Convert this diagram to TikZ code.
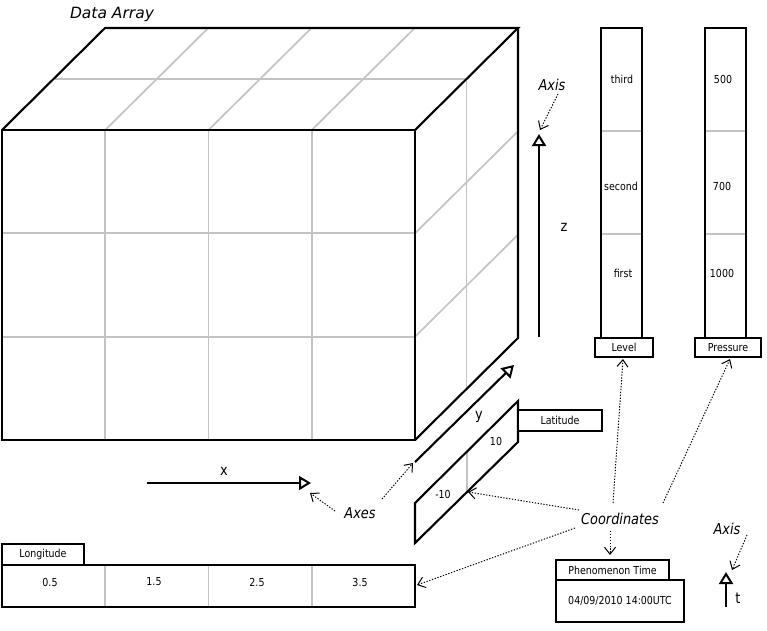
\documentclass[tikz,border=0pt]{standalone}
\usepackage{fontspec}
\setmainfont{DejaVu Sans}[FakeStretch=0.86]
\newfontfamily\widefont{DejaVu Sans}
\usetikzlibrary{arrows.meta}
\definecolor{gridgray}{RGB}{195,195,195}
\tikzset{
  blk/.style={line width=2.1pt, line join=miter},
  gry/.style={line width=1.7pt, draw=gridgray},
  box/.style={draw, line width=2.1pt, inner sep=0pt, fill=white},
  small/.style={font=\fontsize{11}{12}\selectfont, inner sep=0pt},
  ital/.style={font=\fontsize{15}{17}\itshape, inner sep=0pt},
  axl/.style={font=\fontsize{15}{17}\selectfont, inner sep=0pt},
  axarrow/.style={line width=2.1pt, -{Triangle[open, length=12pt, width=14pt, line width=2pt]}},
  dotarrow/.style={line width=1pt, dash pattern=on 1.3pt off 1.6pt, -{Straight Barb[length=7pt, width=11pt, line width=1pt]}}
}
\begin{document}
\begin{tikzpicture}[x=1pt,y=-1pt]
\useasboundingbox (0,0) rectangle (767,630);
% ---------- cube ----------
\foreach \xx in {105.25,208.5,311.75} \draw[gry] (\xx,130) -- (\xx,440);
\foreach \yy in {233.3,336.7} \draw[gry] (2,\yy) -- (415,\yy);
\foreach \xx in {105.25,208.5,311.75} \draw[gry] (\xx,130) -- (\xx+103,28);
\draw[gry] (53.5,79) -- (466.5,79);
\draw[gry] (466.5,79) -- (466.5,389);
\foreach \yy in {233.3,336.7} \draw[gry] (415,\yy) -- (518,\yy-102);
\draw[blk] (2,130) rectangle (415,440);
\draw[blk] (2,130) -- (105,28) -- (518,28) -- (415,130);
\draw[blk] (518,28) -- (518,338) -- (415,440);
\node[font=\widefont\fontsize{15.5}{18}\itshape, inner sep=0pt] (dataarray) at (112,14) {Data Array};
% ---------- z axis ----------
\coordinate (zstart) at (539,337);
\coordinate (ztip) at (539,134);
\draw[axarrow] (zstart) -- (ztip);
\node[axl] (zlab) at (564,227) {z};
\node[ital] (axis1) at (552,85) {Axis};
\coordinate (axis1s) at (558,94);
\coordinate (axis1e) at (540,130);
\draw[dotarrow] (axis1s) -- (axis1e);
% ---------- Level column ----------
\node[box, minimum width=41pt, minimum height=310pt] (levelcol) at (621.5,183) {};
\draw[gry] (602,131) -- (641,131);
\draw[gry] (602,234) -- (641,234);
\node[small] (third) at (622,79) {third};
\node[small] (second) at (621,186) {second};
\node[small] (first) at (623,273) {first};
\node[box, small, minimum width=58pt, minimum height=19pt] (levelbox) at (624,347.5) {Level};
% ---------- Pressure column ----------
\node[box, minimum width=41pt, minimum height=310pt] (prescol) at (725.5,183) {};
\draw[gry] (706,131) -- (745,131);
\draw[gry] (706,234) -- (745,234);
\node[small] (p500) at (723,79) {500};
\node[small] (p700) at (722,186) {700};
\node[small] (p1000) at (722,273) {1000};
\node[box, small, minimum width=66pt, minimum height=19pt] (presbox) at (728,347.5) {Pressure};
% ---------- y axis and latitude ----------
\coordinate (ystart) at (415,462);
\coordinate (ytip) at (514,365);
\draw[axarrow] (ystart) -- (ytip);
\node[axl] (ylab) at (479,417) {y};
\draw[gry] (467,452) -- (467,492);
\draw[blk] (415,503) -- (518,401) -- (518,442) -- (415,543) -- cycle;
\node[small] (lat10) at (496,441) {10};
\node[small] (latm10) at (443,494) {-10};
\node[box, small, minimum width=84pt, minimum height=21pt] (latbox) at (560,420.5) {Latitude};
% ---------- x axis ----------
\coordinate (xstart) at (147,483);
\coordinate (xtip) at (311,483);
\draw[axarrow] (xstart) -- (xtip);
\node[axl] (xlab) at (224,471) {x};
\node[ital] (axes) at (360,513) {Axes};
\coordinate (axesA) at (335,511);
\coordinate (axesB) at (382,499);
\coordinate (xnear) at (310,493);
\coordinate (ynear) at (413,463);
\draw[dotarrow] (axesA) -- (xnear);
\draw[dotarrow] (axesB) -- (ynear);
% ---------- Longitude ----------
\node[box, small, minimum width=82pt, minimum height=21pt] (lonbox) at (43,554.5) {Longitude};
\node[box, minimum width=413pt, minimum height=42pt] (lonbar) at (208.5,586) {};
\foreach \xx in {105.25,208.5,311.75} \draw[gry] (\xx,566) -- (\xx,606);
\node[small] (l05) at (50,582) {0.5};
\node[small] (l15) at (154,582) {1.5};
\node[small] (l25) at (257,582) {2.5};
\node[small] (l35) at (360,582) {3.5};
% ---------- Phenomenon time ----------
\node[box, small, minimum width=113pt, minimum height=20pt] (phenbox) at (612.5,570) {Phenomenon Time};
\node[box, small, minimum width=128pt, minimum height=42pt] (phenval) at (620,601) {04/09/2010 14:00UTC};
% ---------- Coordinates ----------
\node[ital] (coords) at (620,519) {Coordinates};
\coordinate (cLev) at (613,503);
\coordinate (cPres) at (663,503);
\coordinate (cLat) at (579,510);
\coordinate (cLon) at (575,528);
\coordinate (cPhen) at (610,531);
\coordinate (latcell) at (468,492);
\coordinate (lonend) at (417,585);
\coordinate (phenend) at (610,555);
\coordinate (levend) at (623,359);
\coordinate (presend) at (730,359);
\draw[dotarrow] (cLev) -- (levend);
\draw[dotarrow] (cPres) -- (presend);
\draw[dotarrow] (cLat) -- (latcell);
\draw[dotarrow] (cLon) -- (lonend);
\draw[dotarrow] (cPhen) -- (phenend);
% ---------- t axis ----------
\coordinate (tstart) at (726,607);
\coordinate (ttip) at (726,572);
\draw[axarrow] (tstart) -- (ttip);
\node[axl] (tlab) at (738,598) {t};
\node[ital] (axis2) at (727,529) {Axis};
\coordinate (axis2s) at (747,535);
\coordinate (axis2e) at (732,570);
\draw[dotarrow] (axis2s) -- (axis2e);
\end{tikzpicture}
\end{document}
